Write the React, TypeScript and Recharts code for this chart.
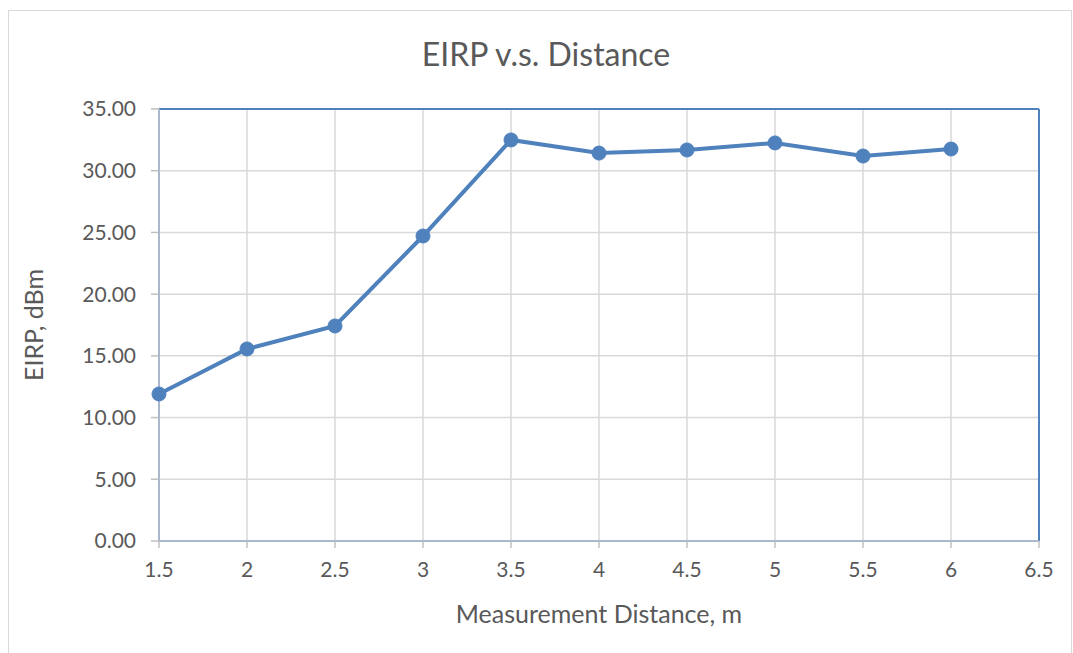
import React from 'react';
import {
  LineChart,
  Line,
  XAxis,
  YAxis,
  CartesianGrid,
  ReferenceLine,
} from 'recharts';

const distances = [1.5, 2, 2.5, 3, 3.5, 4, 4.5, 5, 5.5, 6];
const eirp = [11.91, 15.56, 17.42, 24.71, 32.49, 31.43, 31.68, 32.25, 31.19, 31.76];
const xTicks = [1.5, 2, 2.5, 3, 3.5, 4, 4.5, 5, 5.5, 6, 6.5];
const yTicks = [0, 5, 10, 15, 20, 25, 30, 35];

const FONT = 'Lato, "Open Sans", sans-serif';
const TEXT = '#595959';
const BLUE = '#4F81BD';

const chartData = distances.map((d, i) => ({ x: d, y: eirp[i] }));

export default function App() {
  return (
    <div style={{ position: 'absolute', left: 0, top: 0, width: 1073, height: 653, background: '#fff', overflow: 'hidden', fontFamily: FONT }}>
      {/* outer chart frame */}
      <div style={{ position: 'absolute', left: 8, top: 10, width: 1062, height: 700, border: '1px solid #D9D9D9' }} />
      <div
        style={{
          position: 'absolute',
          left: 546,
          top: 34,
          transform: 'translateX(-50%)',
          fontSize: 32,
          color: TEXT,
          whiteSpace: 'nowrap',
          lineHeight: '40px',
        }}
      >
        EIRP v.s. Distance
      </div>
      <div style={{ position: 'absolute', left: 0, top: 0 }}>
        <LineChart width={1073} height={653} data={chartData} margin={{ top: 109, right: 34, bottom: 0, left: 0 }}>
          <CartesianGrid stroke="#D9D9D9" strokeWidth={1.5} />
          <XAxis
            dataKey="x"
            type="number"
            domain={[1.5, 6.5]}
            ticks={xTicks}
            interval={0}
            height={112}
            tickSize={7}
            tickMargin={14}
            axisLine={{ stroke: '#A9B8CC', strokeWidth: 2 }}
            tickLine={{ stroke: '#BFBFBF', strokeWidth: 1.5 }}
            tick={{ fill: TEXT, fontSize: 21, fontFamily: FONT }}
            label={{ value: 'Measurement Distance, m', position: 'insideBottom', offset: 30, fill: TEXT, fontSize: 25, fontFamily: FONT }}
          />
          <YAxis
            type="number"
            domain={[0, 35]}
            ticks={yTicks}
            interval={0}
            width={159}
            tickSize={8}
            tickMargin={15}
            tickFormatter={(v: number) => v.toFixed(2)}
            axisLine={{ stroke: '#A9B8CC', strokeWidth: 2 }}
            tickLine={{ stroke: '#BFBFBF', strokeWidth: 1.5 }}
            tick={{ fill: TEXT, fontSize: 21, fontFamily: FONT }}
            label={{
              content: (props: any) => {
                const vb = props.viewBox || {};
                const cx = 33;
                const cy = (vb.y ?? 109) + (vb.height ?? 432) / 2;
                return (
                  <text
                    x={cx}
                    y={cy}
                    transform={`rotate(-90 ${cx} ${cy})`}
                    textAnchor="middle"
                    dominantBaseline="central"
                    fill={TEXT}
                    fontSize={25}
                    fontFamily={FONT}
                  >
                    EIRP, dBm
                  </text>
                );
              },
            }}
          />
          <ReferenceLine y={35} stroke={BLUE} strokeWidth={2} />
          <ReferenceLine x={6.5} stroke={BLUE} strokeWidth={2} />
          <Line
            type="linear"
            dataKey="y"
            stroke={BLUE}
            strokeWidth={4}
            dot={{ r: 7, fill: BLUE, stroke: BLUE, strokeWidth: 1 }}
            activeDot={false}
            isAnimationActive={false}
          />
        </LineChart>
      </div>
    </div>
  );
}
